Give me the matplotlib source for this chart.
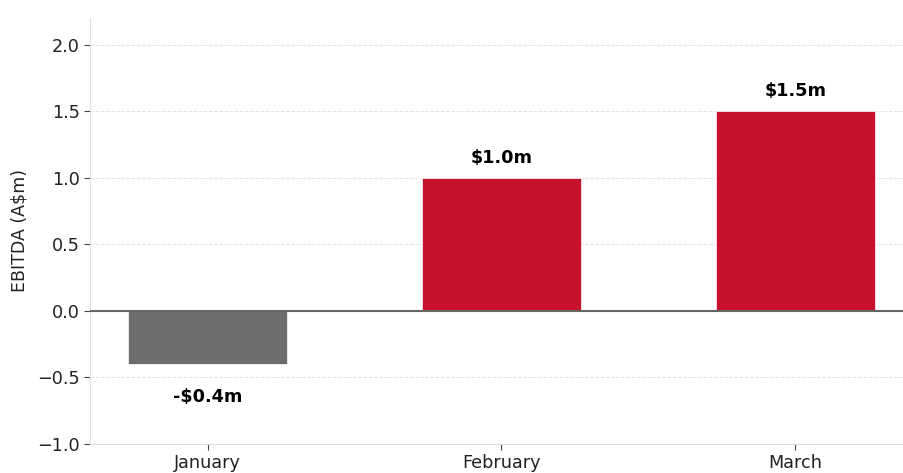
import matplotlib
matplotlib.use("Agg")
import matplotlib.pyplot as plt

plt.rcParams["font.family"] = ["DejaVu Sans"]

months = ["January", "February", "March"]
ebitda = [-0.4, 1.0, 1.5]
labels = ["-$0.4m", "$1.0m", "$1.5m"]
colors = ["#6d6d6d", "#c8102e", "#c8102e"]


def main():
    fig = plt.figure(figsize=(9.04, 4.73), dpi=100)
    ax = fig.add_axes([0.0996, 0.0613, 0.9004, 0.9007])

    x = range(len(months))
    bars = ax.bar(x, ebitda, width=0.54, color=colors, edgecolor="white",
                  linewidth=0.5, zorder=3)

    for bar, val, lab in zip(bars, ebitda, labels):
        cx = bar.get_x() + bar.get_width() / 2
        if val >= 0:
            ax.annotate(lab, (cx, val), xytext=(0, 8), textcoords="offset points",
                        ha="center", va="bottom", fontsize=12.7, fontweight="bold")
        else:
            ax.annotate(lab, (cx, val), xytext=(0, -17), textcoords="offset points",
                        ha="center", va="top", fontsize=12.7, fontweight="bold")

    ax.axhline(0, color="#666666", linewidth=1.5, zorder=4)

    ax.set_xticks(list(x))
    ax.set_xticklabels(months, fontsize=12.7, color="#222222")
    ax.set_xlim(-0.4, 2.37)
    ax.set_ylim(-1.0, 2.2)
    ax.set_yticks([-1.0, -0.5, 0.0, 0.5, 1.0, 1.5, 2.0])
    ax.tick_params(axis="y", labelsize=12.7, labelcolor="#222222", color="#444444", length=4)
    ax.tick_params(axis="x", color="#444444", length=4)
    ax.set_ylabel("EBITDA (A$m)", fontsize=12.5, color="#222222", labelpad=6)

    ax.yaxis.grid(True, linestyle="--", color="#e4e4e4", linewidth=0.7, zorder=0)
    ax.set_axisbelow(True)
    for side in ["top", "right"]:
        ax.spines[side].set_visible(False)
    for side in ["left", "bottom"]:
        ax.spines[side].set_color("#dddddd")

    fig.savefig("out.png", dpi=100)


if __name__ == "__main__":
    main()
